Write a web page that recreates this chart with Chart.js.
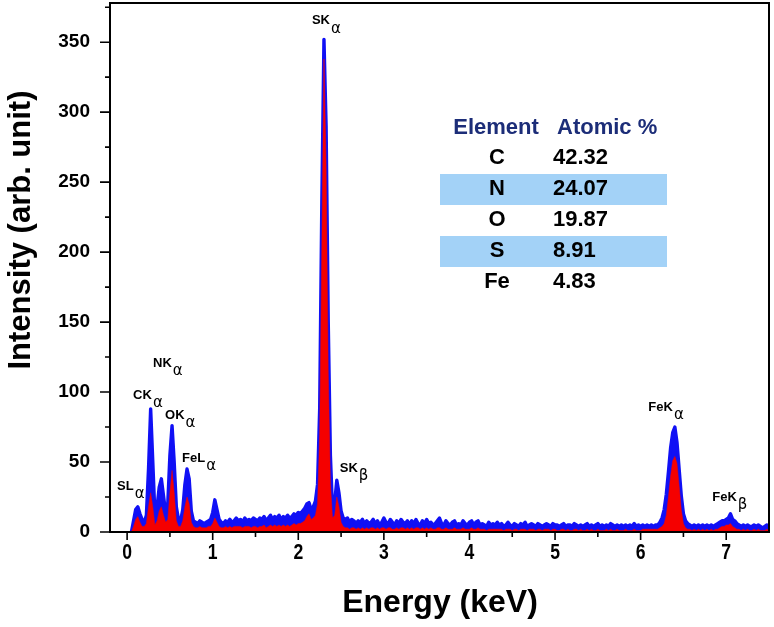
<!DOCTYPE html>
<html>
<head>
<meta charset="utf-8">
<script src="https://cdn.jsdelivr.net/npm/chart.js@4.4.1/dist/chart.umd.min.js"></script>
<style>
  html, body { margin: 0; padding: 0; background: #fff; }
</style>
</head>
<body>
<canvas id="eds" width="774" height="627"></canvas>
<script>
// EDS spectrum, sampled every 0.025 keV starting at 0.05 keV
const energyStart = 0.05;
const energyStep = 0.025;

// outer (blue) spectrum, 10 samples per row = 0.25 keV
const blueCounts = [
  0, 8, 16, 18, 13, 9, 7, 12, 45, 88,
  50, 12, 18, 32, 38, 26, 14, 20, 55, 76,
  50, 18, 9, 8, 16, 34, 45, 38, 15, 8,
  7, 6, 8, 7, 6, 7, 8, 9, 14, 23,
  16, 9, 7, 6, 8, 7, 9, 7, 8, 10,
  8, 9, 7, 10, 8, 9, 8, 10, 9, 8,
  10, 9, 11, 8, 10, 12, 9, 11, 10, 12,
  9, 11, 10, 12, 10, 11, 13, 12, 14, 13,
  15, 17, 20, 21, 16, 18, 22, 34, 88, 235,
  352, 290, 150, 55, 16, 21, 37, 28, 15, 10,
  9, 10, 7, 9, 8, 6, 8, 7, 9, 6,
  8, 6, 7, 9, 6, 8, 5, 7, 10, 7,
  6, 9, 7, 5, 8, 6, 9, 7, 6, 8,
  5, 8, 6, 9, 6, 5, 8, 6, 9, 6,
  7, 5, 6, 8, 10, 6, 5, 8, 6, 5,
  7, 8, 5, 6, 5, 8, 6, 5, 7, 8,
  5, 7, 8, 5, 6, 5, 4, 7, 5, 6,
  5, 7, 5, 6, 4, 5, 7, 5, 4, 6,
  5, 4, 6, 5, 7, 4, 5, 6, 5, 4,
  6, 5, 4, 5, 6, 5, 4, 6, 5, 5,
  4, 5, 6, 4, 5, 5, 4, 6, 5, 4,
  5, 4, 5, 6, 4, 5, 4, 5, 6, 4,
  5, 4, 5, 4, 6, 5, 4, 5, 4, 5,
  4, 5, 4, 5, 4, 6, 4, 5, 4, 5,
  4, 5, 4, 5, 4, 5, 5, 7, 10, 16,
  27, 43, 60, 71, 75, 64, 45, 26, 13, 8,
  6, 5, 4, 5, 4, 5, 4, 5, 4, 5,
  4, 5, 4, 5, 6, 7, 8, 8, 9, 10,
  13, 9, 8, 6, 5, 4, 5, 4, 5, 4,
  4, 5, 4, 5, 4, 3, 4, 5, 4, 4
];

// inner (red) spectrum on the same energy grid
const redCounts = [
  0, 4, 9, 11, 7, 4, 4, 6, 18, 28,
  18, 5, 8, 15, 18, 12, 7, 9, 28, 44,
  28, 8, 4, 4, 8, 18, 25, 20, 7, 4,
  3, 3, 4, 3, 3, 3, 4, 4, 6, 10,
  7, 4, 3, 3, 4, 3, 4, 3, 4, 4,
  4, 4, 3, 4, 4, 4, 3, 4, 4, 3,
  4, 4, 5, 3, 4, 5, 4, 5, 4, 5,
  4, 5, 4, 5, 4, 5, 6, 5, 6, 6,
  7, 8, 11, 13, 9, 10, 12, 20, 70, 205,
  338, 262, 115, 35, 10, 12, 25, 18, 7, 4,
  3, 3, 2, 3, 3, 2, 3, 2, 3, 2,
  3, 2, 3, 3, 2, 3, 2, 3, 3, 2,
  3, 3, 2, 2, 3, 2, 3, 3, 2, 3,
  2, 3, 2, 3, 3, 2, 3, 2, 3, 2,
  3, 2, 2, 3, 3, 2, 2, 3, 2, 2,
  2, 3, 2, 2, 2, 3, 2, 2, 2, 3,
  2, 2, 3, 2, 2, 2, 1, 2, 2, 2,
  2, 2, 2, 2, 1, 2, 2, 2, 1, 2,
  2, 1, 2, 2, 2, 1, 2, 2, 2, 1,
  2, 2, 1, 2, 2, 2, 1, 2, 2, 1,
  1, 2, 2, 1, 2, 1, 1, 2, 2, 1,
  2, 1, 1, 2, 1, 2, 1, 1, 2, 1,
  1, 1, 2, 1, 2, 1, 1, 2, 1, 1,
  1, 2, 1, 1, 1, 2, 1, 1, 1, 2,
  2, 2, 2, 2, 2, 2, 2, 3, 4, 6,
  12, 25, 40, 51, 54, 49, 33, 16, 6, 3,
  2, 2, 1, 2, 1, 2, 1, 2, 1, 2,
  1, 2, 1, 2, 2, 3, 4, 4, 5, 5,
  6, 4, 3, 2, 2, 1, 2, 1, 2, 1,
  1, 2, 1, 2, 1, 1, 1, 2, 1, 1
];

const xTicks = [0, 1, 2, 3, 4, 5, 6, 7];
const xMinorTicks = [0.5, 1.5, 2.5, 3.5, 4.5, 5.5, 6.5];
const yTicks = [0, 50, 100, 150, 200, 250, 300, 350];
const yMinorTicks = [25, 75, 125, 175, 225, 275, 325, 375];

// peak labels: name, subscript, anchor (energy, intensity) of the label's left/middle
const peakNames = ['SL', 'CK', 'NK', 'OK', 'FeL', 'SK', 'SK', 'FeK', 'FeK'];
const peakSubs = ['α', 'α', 'α', 'α', 'α', 'α', 'β', 'α', 'β'];
const peakLabelE = [-0.117, 0.07, 0.303, 0.443, 0.642, 2.159, 2.485, 6.09, 6.837];
const peakLabelI = [32.8, 97.6, 120.4, 83.4, 52.8, 365.3, 45.7, 89.1, 24.7];

// composition table
const elements = ['C', 'N', 'O', 'S', 'Fe'];
const atomicPct = ['42.32', '24.07', '19.87', '8.91', '4.83'];

const toPoints = (counts) => counts.map((v, i) => ({
  x: +(energyStart + i * energyStep).toFixed(3),
  y: v
}));

const sans = "'Liberation Sans', Arial, Helvetica, sans-serif";

const decor = {
  id: 'decor',
  afterDatasetsDraw(chart) {
    const { ctx, chartArea: a } = chart;
    const xs = chart.scales.x, ys = chart.scales.y;
    ctx.save();

    // frame
    ctx.strokeStyle = '#000';
    ctx.lineWidth = 2;
    ctx.strokeRect(a.left, a.top, a.right - a.left, a.bottom - a.top);

    // tick marks, outside
    ctx.lineWidth = 1.6;
    ctx.beginPath();
    xTicks.forEach(v => { const p = xs.getPixelForValue(v); ctx.moveTo(p, a.bottom); ctx.lineTo(p, a.bottom + 8); });
    xMinorTicks.forEach(v => { const p = xs.getPixelForValue(v); ctx.moveTo(p, a.bottom); ctx.lineTo(p, a.bottom + 5); });
    yTicks.forEach(v => { const p = ys.getPixelForValue(v); ctx.moveTo(a.left, p); ctx.lineTo(a.left - 10, p); });
    yMinorTicks.forEach(v => { const p = ys.getPixelForValue(v); ctx.moveTo(a.left, p); ctx.lineTo(a.left - 5, p); });
    ctx.stroke();

    ctx.fillStyle = '#000';
    ctx.textAlign = 'center';
    ctx.textBaseline = 'middle';

    // x tick labels, condensed like the original
    ctx.font = 'bold 22px ' + sans;
    xTicks.forEach(v => {
      ctx.save();
      ctx.translate(xs.getPixelForValue(v), a.bottom + 21);
      ctx.scale(0.8, 1);
      ctx.fillText(String(v), 0, 0);
      ctx.restore();
    });

    // axis titles
    ctx.font = 'bold 32px ' + sans;
    ctx.fillText('Energy (keV)', 440, 603);
    ctx.save();
    ctx.translate(21, 230);
    ctx.rotate(-Math.PI / 2);
    ctx.font = 'bold 31px ' + sans;
    ctx.fillText('Intensity (arb. unit)', 0, 0);
    ctx.restore();

    // peak labels
    ctx.textAlign = 'left';
    peakNames.forEach((name, i) => {
      const px = xs.getPixelForValue(peakLabelE[i]);
      const py = ys.getPixelForValue(peakLabelI[i]);
      ctx.font = 'bold 13px ' + sans;
      ctx.fillText(name, px, py);
      const w = ctx.measureText(name).width;
      ctx.font = "15px 'DejaVu Sans', sans-serif";
      ctx.fillText(peakSubs[i], px + w + 1, py + 8);
    });

    // composition table
    const rowY = (i) => 158 + i * 31;
    ctx.fillStyle = '#a3d2f7';
    [1, 3].forEach(i => ctx.fillRect(440, rowY(i) - 15, 227, 31));
    ctx.fillStyle = '#1c2d78';
    ctx.font = 'bold 22px ' + sans;
    ctx.textAlign = 'center';
    ctx.fillText('Element', 496, 128);
    ctx.textAlign = 'left';
    ctx.fillText('Atomic %', 557, 128);
    ctx.fillStyle = '#000';
    elements.forEach((el, i) => {
      ctx.textAlign = 'center';
      ctx.fillText(el, 497, rowY(i));
      ctx.textAlign = 'left';
      ctx.fillText(atomicPct[i], 553, rowY(i));
    });

    ctx.restore();
  }
};

new Chart(document.getElementById('eds').getContext('2d'), {
  type: 'line',
  data: {
    datasets: [
      {
        label: 'total',
        data: toPoints(blueCounts),
        borderColor: '#1010f5',
        backgroundColor: '#1010f5',
        borderWidth: 3.4,
        borderJoinStyle: 'round',
        fill: 'origin',
        pointRadius: 0,
        tension: 0,
        order: 2
      },
      {
        label: 'inner',
        data: toPoints(redCounts),
        borderColor: '#f50000',
        backgroundColor: '#f50000',
        borderWidth: 0.5,
        fill: 'origin',
        pointRadius: 0,
        tension: 0,
        order: 1
      }
    ]
  },
  options: {
    responsive: false,
    animation: false,
    layout: { padding: { left: 0, right: 5, top: 3, bottom: 0 } },
    plugins: { legend: { display: false }, tooltip: { enabled: false } },
    scales: {
      x: {
        type: 'linear',
        min: -0.2,
        max: 7.5,
        grid: { display: false, drawTicks: false },
        border: { display: false },
        afterBuildTicks: (s) => { s.ticks = xTicks.map(v => ({ value: v })); },
        afterFit: (s) => { s.height = 95; s.paddingLeft = 0; s.paddingRight = 0; },
        ticks: { display: false }
      },
      y: {
        min: 0,
        max: 378,
        grid: { display: false, drawTicks: false },
        border: { display: false },
        afterBuildTicks: (s) => { s.ticks = yTicks.map(v => ({ value: v })); },
        afterFit: (s) => { s.width = 110; s.paddingTop = 0; s.paddingBottom = 0; },
        ticks: {
          color: '#000',
          padding: 20,
          font: { family: sans, size: 19, weight: 'bold' }
        }
      }
    }
  },
  plugins: [decor]
});
</script>
</body>
</html>
